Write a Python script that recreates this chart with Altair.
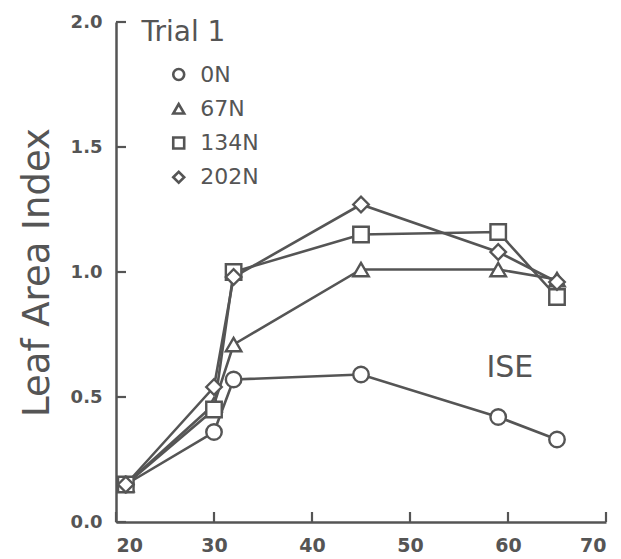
import altair as alt
import pandas as pd

days = [21, 30, 32, 45, 59, 65]
n0 = [0.15, 0.36, 0.57, 0.59, 0.42, 0.33]
n67 = [0.15, 0.47, 0.71, 1.01, 1.01, 0.97]
n134 = [0.15, 0.45, 1.00, 1.15, 1.16, 0.90]
n202 = [0.15, 0.54, 0.98, 1.27, 1.08, 0.96]
series = ["0N", "67N", "134N", "202N"]
shapes = ["circle", "triangle-up", "square", "diamond"]
x_ticks = [20, 30, 40, 50, 60, 70]
y_ticks = [0.0, 0.5, 1.0, 1.5, 2.0]
notes = [{"x": 22.6, "y": 1.955, "t": "Trial 1", "size": 28},
         {"x": 57.8, "y": 0.615, "t": "ISE", "size": 30}]

GRAY = "#555555"
FONT = "DejaVu Sans"

# legend layout (symbol column in days, first row and row step in LAI units)
LEG_X, LEG_LABEL_X, LEG_Y0, LEG_STEP = 26.4, 28.6, 1.79, 0.137

rows = []
for name, vals in zip(series, [n0, n67, n134, n202]):
    for d, v in zip(days, vals):
        rows.append({"day": d, "lai": v, "rate": name})
df = pd.DataFrame(rows)

leg = pd.DataFrame({
    "rate": series,
    "lx": [LEG_X] * len(series),
    "tx": [LEG_LABEL_X] * len(series),
    "ly": [LEG_Y0 - i * LEG_STEP for i in range(len(series))],
})

xs = alt.Scale(domain=[20, 70], nice=False)
ys = alt.Scale(domain=[0, 2.0], nice=False)
shape_scale = alt.Scale(domain=series, range=shapes)

base = alt.Chart(df)

lines = base.mark_line(color=GRAY, strokeWidth=2.6).encode(
    x=alt.X("day:Q", scale=xs, axis=alt.Axis(
        values=x_ticks, ticks=False, format="d", labelFont=FONT, labelFontSize=19,
        labelFontWeight="bold", labelColor=GRAY, domainColor=GRAY, domainWidth=2.5,
        labelPadding=14, grid=False, title=None)),
    y=alt.Y("lai:Q", scale=ys, axis=alt.Axis(
        values=y_ticks, ticks=False, format=".1f", labelFont=FONT, labelFontSize=18,
        labelFontWeight="bold", labelColor=GRAY, domainColor=GRAY, domainWidth=2.5,
        labelPadding=14, grid=False, title="Leaf Area Index", titleFont=FONT,
        titleFontSize=37, titleFontWeight="normal", titleColor=GRAY, titlePadding=14)),
    detail="rate:N",
    order="day:Q",
)

points = base.mark_point(filled=True, fill="white", stroke=GRAY, strokeWidth=2.4,
                         size=240, opacity=1).encode(
    x=alt.X("day:Q", scale=xs),
    y=alt.Y("lai:Q", scale=ys),
    shape=alt.Shape("rate:N", scale=shape_scale, legend=None),
)

leg_sym = alt.Chart(leg).mark_point(filled=True, fill="white", stroke=GRAY,
                                    strokeWidth=2.6, size=120, opacity=1).encode(
    x=alt.X("lx:Q", scale=xs), y=alt.Y("ly:Q", scale=ys),
    shape=alt.Shape("rate:N", scale=shape_scale, legend=None))
leg_txt = alt.Chart(leg).mark_text(align="left", baseline="middle", font=FONT,
                                   fontSize=22, color=GRAY).encode(
    x=alt.X("tx:Q", scale=xs), y=alt.Y("ly:Q", scale=ys), text="rate:N")

xt = alt.Chart(pd.DataFrame({"v": x_ticks})).mark_rule(color=GRAY, strokeWidth=2.2).encode(
    x=alt.X("v:Q", scale=xs), y=alt.value(500), y2=alt.value(490))
yt = alt.Chart(pd.DataFrame({"v": y_ticks})).mark_rule(color=GRAY, strokeWidth=2.2).encode(
    y=alt.Y("v:Q", scale=ys), x=alt.value(0), x2=alt.value(10))

txt = alt.Chart(pd.DataFrame(notes)).mark_text(
    align="left", baseline="middle", font=FONT, color=GRAY).encode(
    x=alt.X("x:Q", scale=xs), y=alt.Y("y:Q", scale=ys), text="t:N",
    size=alt.Size("size:Q", scale=None, legend=None))

chart = alt.layer(lines, xt, yt, points, leg_sym, leg_txt, txt).properties(
    width=490, height=500,
    background="white",
    autosize=alt.AutoSizeParams(type="none"),
    padding={"left": 116, "top": 22, "right": 15, "bottom": 37},
).configure_view(strokeWidth=0, stroke=None)

chart.save("out.html", embed_options={"renderer": "svg", "actions": False})
